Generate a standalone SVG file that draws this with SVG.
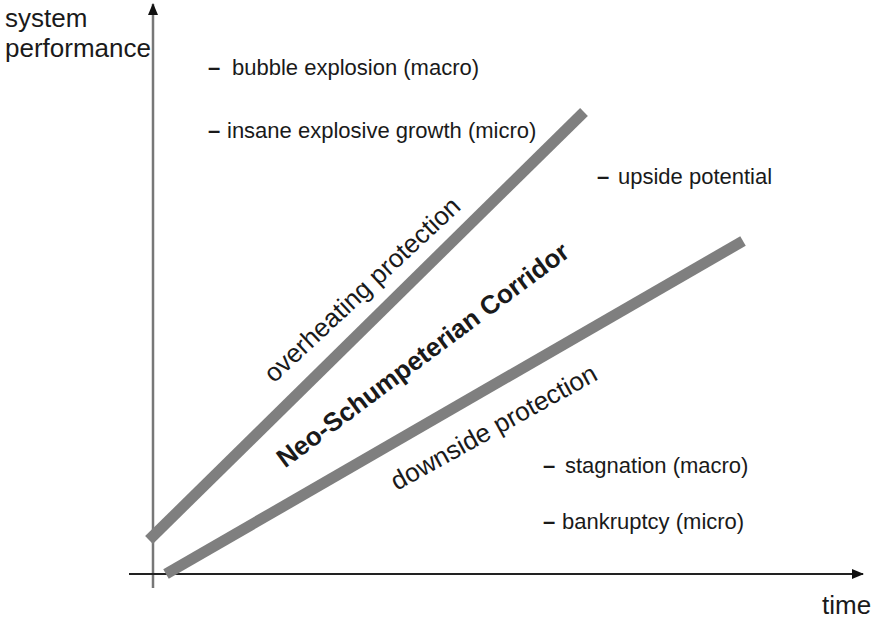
<svg xmlns="http://www.w3.org/2000/svg" width="873" height="621" viewBox="0 0 873 621">
<defs>
<style>
.lbl{font-family:"Liberation Sans",Arial,sans-serif;fill:#1a1a1a}
.ax{font-size:26px}
.item{font-size:22px}
.rot{font-size:26px}
.bold{font-weight:bold}
.dash{font-weight:bold}
.band{stroke:#7f7f7f;stroke-width:11;fill:none}
</style>
<marker id="arr" markerWidth="12" markerHeight="10" refX="11" refY="5" orient="auto" markerUnits="userSpaceOnUse">
<path d="M0,0 L12,5 L0,10 Z" fill="#111"/>
</marker>
</defs>
<rect width="873" height="621" fill="#fff"/>
<g id="axes">
<line x1="153" y1="588" x2="153" y2="4" stroke="#777" stroke-width="2.5" marker-end="url(#arr)"/>
<line x1="129" y1="574" x2="863" y2="574" stroke="#222" stroke-width="2" marker-end="url(#arr)"/>
</g>
<g id="bands">
<line id="upper-band" class="band" x1="149" y1="540" x2="584" y2="112"/>
<line id="lower-band" class="band" x1="166" y1="574" x2="743" y2="241"/>
</g>
<g id="axis-labels" class="lbl ax">
<text x="5" y="27">system</text>
<text x="5" y="57">performance</text>
<text x="822" y="614">time</text>
</g>
<g id="items" class="lbl item">
<text><tspan class="dash" x="208" y="75">–</tspan><tspan x="232" y="75">bubble explosion (macro)</tspan></text>
<text><tspan class="dash" x="208" y="138">–</tspan><tspan x="227" y="138">insane explosive growth (micro)</tspan></text>
<text><tspan class="dash" x="597" y="184">–</tspan><tspan x="618" y="184">upside potential</tspan></text>
<text><tspan class="dash" x="543" y="473">–</tspan><tspan x="565" y="473">stagnation (macro)</tspan></text>
<text><tspan class="dash" x="543" y="529">–</tspan><tspan x="562" y="529">bankruptcy (micro)</tspan></text>
</g>
<g id="band-labels" class="lbl rot" text-anchor="middle">
<text transform="translate(368,296) rotate(-43)">overheating protection</text>
<text class="bold" transform="translate(428,362) rotate(-36.7)">Neo-Schumpeterian Corridor</text>
<text transform="translate(498,435) rotate(-29)">downside protection</text>
</g>
</svg>
